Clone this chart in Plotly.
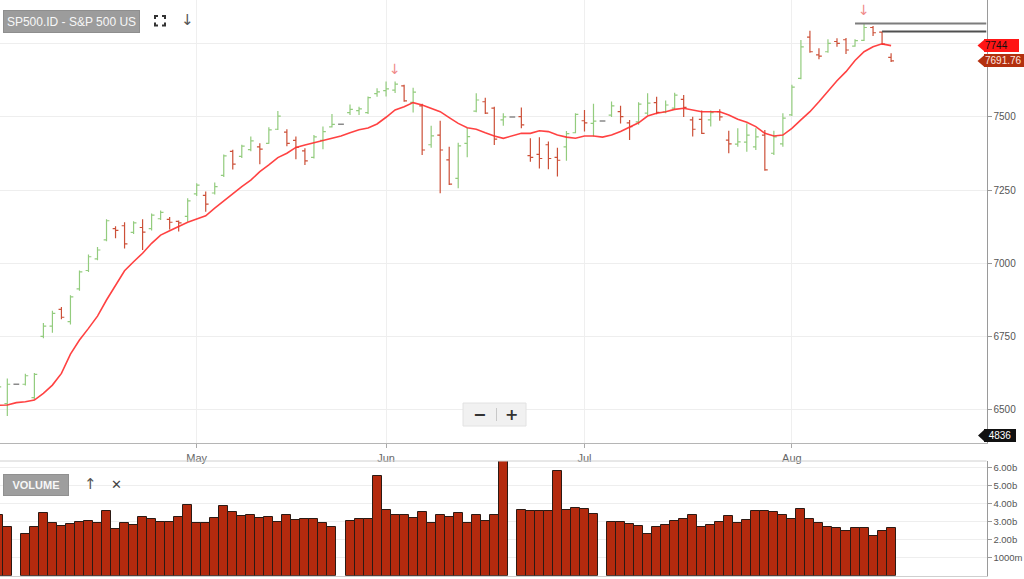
import pandas as pd
import plotly.graph_objects as go

W, H = 1024, 579

# ---------------- data ----------------
dates = [d.strftime("%Y-%m-%d") for d in pd.bdate_range("2026-04-01", "2026-08-18")]
holidays = ["2026-04-03", "2026-05-25", "2026-06-19", "2026-07-03"]

opens = [
    # April
    6560, 6520, 6586, 6586, 6540, 6750, 6785, 6842, 6800, 6912, 6975, 7015, 7080, 7118, 7128, 7105, 7122, 7118, 7152, 7150, 7143, 7160,
    # May
    7237, 7232, 7240, 7300, 7382, 7365, 7388, 7398, 7410, 7458, 7448, 7420, 7384, 7362, 7420, 7466, 7475, 7515, 7522, 7515, 7580,
    # June
    7590, 7592, 7606, 7550, 7538, 7405, 7438, 7353, 7290, 7410, 7520, 7552, 7530, 7490, 7500, 7501, 7368, 7372, 7405, 7362, 7398, 7446,
    # July
    7487, 7478, 7486, 7506, 7518, 7480, 7483, 7513, 7549, 7517, 7530, 7560, 7490, 7492, 7490, 7518, 7421, 7407, 7414, 7398, 7438, 7376, 7408,
    # August
    7507, 7632, 7773, 7712, 7723, 7758, 7764, 7742, 7762, 7806, 7790, 7704,
]
highs = [
    6592, 6606, 6586, 6622, 6624, 6795, 6837, 6850, 6890, 6975, 7030, 7055, 7150, 7126, 7140, 7143, 7150, 7170, 7180, 7158, 7146, 7222,
    7273, 7245, 7276, 7372, 7388, 7405, 7433, 7410, 7465, 7520, 7458, 7433, 7393, 7438, 7467, 7510, 7475, 7543, 7535, 7570, 7598,
    7621, 7621, 7610, 7600, 7545, 7470, 7487, 7398, 7412, 7462, 7581, 7566, 7535, 7513, 7500, 7532, 7427, 7431, 7416, 7395, 7452, 7513,
    7524, 7545, 7486, 7553, 7538, 7490, 7550, 7581, 7569, 7556, 7583, 7575, 7501, 7522, 7522, 7526, 7453, 7461, 7478, 7461, 7455, 7453, 7513,
    7610, 7763, 7795, 7735, 7766, 7769, 7770, 7766, 7820, 7811, 7792, 7718,
]
lows = [
    6540, 6477, 6586, 6582, 6535, 6743, 6762, 6808, 6790, 6906, 6970, 7010, 7075, 7085, 7050, 7100, 7045, 7112, 7148, 7115, 7108, 7142,
    7230, 7176, 7235, 7295, 7320, 7360, 7383, 7338, 7408, 7455, 7400, 7355, 7336, 7358, 7390, 7464, 7475, 7507, 7507, 7510, 7569,
    7570, 7582, 7552, 7515, 7370, 7395, 7239, 7267, 7256, 7362, 7516, 7510, 7404, 7470, 7500, 7461, 7347, 7324, 7321, 7296, 7350, 7444,
    7450, 7433, 7486, 7500, 7478, 7421, 7473, 7507, 7509, 7513, 7526, 7500, 7433, 7442, 7467, 7487, 7376, 7398, 7381, 7387, 7316, 7370, 7398,
    7503, 7629, 7720, 7697, 7720, 7740, 7715, 7740, 7760, 7777, 7746, 7688,
]
closes = [
    6577, 6586, 6586, 6615, 6620, 6785, 6828, 6815, 6885, 6970, 7022, 7045, 7145, 7112, 7066, 7138, 7106, 7164, 7174, 7140, 7138, 7213,
    7267, 7202, 7262, 7367, 7339, 7400, 7418, 7390, 7456, 7503, 7410, 7396, 7350, 7432, 7450, 7475, 7475, 7526, 7528, 7566, 7586,
    7596, 7612, 7555, 7585, 7387, 7435, 7387, 7270, 7401, 7433, 7558, 7513, 7424, 7500, 7500, 7473, 7362, 7358, 7358, 7352, 7443, 7509,
    7480, 7486, 7486, 7538, 7501, 7467, 7544, 7547, 7516, 7541, 7575, 7533, 7458, 7444, 7515, 7500, 7408, 7415, 7438, 7432, 7319, 7432, 7496,
    7602, 7740, 7723, 7708, 7752, 7752, 7729, 7761, 7806, 7788, 7749, 7691.76,
]
moving_avg = [
    6514, 6515, 6523, 6526, 6532, 6555, 6583, 6623, 6689, 6737, 6777, 6819, 6874, 6925, 6974, 7005, 7034, 7068, 7096, 7111, 7125, 7140,
    7151, 7162, 7188, 7213, 7239, 7262, 7284, 7313, 7336, 7361, 7376, 7396, 7404, 7412, 7421, 7429, 7435, 7446, 7456, 7462, 7476,
    7499, 7524, 7535, 7549, 7541, 7530, 7518, 7498, 7478, 7463, 7458, 7446, 7435, 7427, 7435, 7444, 7444, 7453, 7450, 7438, 7431, 7427,
    7435, 7435, 7431, 7438, 7450, 7465, 7480, 7503, 7513, 7518, 7526, 7530, 7524, 7518, 7518, 7518, 7507, 7492, 7482, 7467, 7444, 7435, 7438,
    7461, 7490, 7518, 7552, 7590, 7624, 7655, 7693, 7723, 7740, 7750, 7744,
]
volume_bn = [
    3.36, 2.71, 0, 2.31, 2.71, 3.51, 2.95, 2.75, 2.86, 3.01, 3.06, 2.95, 3.62, 2.62, 2.95, 2.80, 3.27, 3.17, 3.01, 3.01, 3.27, 3.95,
    2.90, 2.95, 3.21, 3.86, 3.56, 3.30, 3.36, 3.21, 3.27, 3.01, 3.36, 3.12, 3.17, 3.17, 2.90, 2.71, 0, 3.06, 3.14, 3.17, 5.55,
    3.67, 3.39, 3.39, 3.21, 3.56, 2.95, 3.39, 3.27, 3.51, 2.95, 3.39, 3.06, 3.36, 6.37, 0, 3.67, 3.58, 3.62, 3.58, 5.81, 3.67, 3.76,
    3.71, 3.41, 0, 3.01, 3.01, 2.86, 2.75, 2.31, 2.71, 2.80, 3.06, 3.15, 3.39, 2.71, 2.80, 3.01, 3.30, 2.95, 3.12, 3.62, 3.62, 3.56, 3.39,
    3.15, 3.71, 3.15, 2.90, 2.71, 2.66, 2.51, 2.66, 2.66, 2.20, 2.51, 2.66,
]

month_tick_dates = ["2026-05-01", "2026-06-01", "2026-07-01", "2026-08-03"]
month_tick_text = ["May", "Jun", "Jul", "Aug"]
price_ticks = [6500, 6750, 7000, 7250, 7500, 7750]
price_tick_text = ["6500", "6750", "7000", "7250", "7500", ""]  # 7750 label sits under the price tag
vol_ticks = [1, 2, 3, 4, 5, 6]
vol_tick_text = ["1000m", "2.00b", "3.00b", "4.00b", "5.00b", "6.00b"]
signal_dates = ["2026-06-02", "2026-08-13"]
level_lines = [("2026-08-12", "2026-08-13"), ("2026-08-17", "2026-08-17")]  # (start date, date whose high is the level)
extra_tag = "4836"

# ---------------- styles ----------------
FONT = "Liberation Sans, Arial, sans-serif"
GREEN = "#93cc7e"
RED = "#cc5038"
GRAY = "#8a8a8a"
MA_COL = "rgba(255,45,45,0.9)"
VOL_FILL = "#b42a0e"
VOL_EDGE = "#2b1a14"

XR = [0.188, 109.58]
XDOM = [0, 986.5 / W]
PR = [6384, 7900]


def px(x):
    return x / W


def py(y):
    return 1 - y / H


is_hol = [d in holidays for d in dates]


def pick(vals, flag):
    return [v if f == flag else None for v, f in zip(vals, is_hol)]


fig = go.Figure()

fig.add_trace(go.Ohlc(
    x=dates, open=pick(opens, False), high=pick(highs, False), low=pick(lows, False), close=pick(closes, False),
    increasing=dict(line=dict(color=GREEN, width=1.2)),
    decreasing=dict(line=dict(color=RED, width=1.2)),
    tickwidth=0.32, xaxis="x", yaxis="y", hoverinfo="skip", showlegend=False))
fig.add_trace(go.Ohlc(
    x=dates, open=pick(opens, True), high=pick(highs, True), low=pick(lows, True), close=pick(closes, True),
    increasing=dict(line=dict(color=GRAY, width=1.5)),
    decreasing=dict(line=dict(color=GRAY, width=1.5)),
    tickwidth=0.32, xaxis="x", yaxis="y", hoverinfo="skip", showlegend=False))
fig.add_trace(go.Scatter(
    x=dates, y=moving_avg, mode="lines", line=dict(color=MA_COL, width=1.6),
    xaxis="x", yaxis="y", hoverinfo="skip", showlegend=False))
fig.add_trace(go.Bar(
    x=dates, y=[v if v > 0 else None for v in volume_bn],
    marker=dict(color=VOL_FILL, line=dict(color=VOL_EDGE, width=1)),
    xaxis="x2", yaxis="y2", hoverinfo="skip", showlegend=False))

shapes = []
annotations = []


def label(x, y, text, size, color, family="DejaVu Sans", **kw):
    d = dict(x=px(x), y=py(y), xref="paper", yref="paper", text=text, showarrow=False,
             xanchor="center", yanchor="middle", font=dict(size=size, color=color, family=family))
    d.update(kw)
    annotations.append(d)


# level lines
for start, ref in level_lines:
    lvl = highs[dates.index(ref)]
    shapes.append(dict(type="line", xref="x", yref="y", x0=dates.index(start), x1=XR[1], y0=lvl, y1=lvl,
                       line=dict(color="#7d7d7d" if start == level_lines[0][0] else "#505050", width=2)))

# signal arrows
for d in signal_dates:
    annotations.append(dict(x=d, y=highs[dates.index(d)], xref="x", yref="y", text="↓", showarrow=False,
                            xanchor="center", yanchor="bottom", yshift=3,
                            font=dict(size=14, color="#f08a8a", family="DejaVu Sans")))


# price tags
def tag(value, text, bg, fg, width):
    h_units = 6.0 * (PR[1] - PR[0]) / 443.3
    annotations.append(dict(x=px(984), y=value, xref="paper", yref="y", text=text, showarrow=False,
                            xanchor="left", yanchor="middle", bgcolor=bg, bordercolor=bg, borderpad=0,
                            width=width, height=11, align="left",
                            font=dict(size=10, color=fg, family=FONT)))
    shapes.append(dict(type="path", xref="paper", yref="y",
                       path=f"M {px(977.5)},{value} L {px(984.5)},{value + h_units} L {px(984.5)},{value - h_units} Z",
                       fillcolor=bg, line=dict(width=0)))


tag(moving_avg[-1], f"{moving_avg[-1]:g}", "#ff1515", "#111111", 33)
tag(closes[-1], f"{closes[-1]:.2f}", "#b3300f", "#ffe6e0", 44)

# black tag near bottom of price axis
annotations.append(dict(x=px(984), y=py(435.5), xref="paper", yref="paper", text=extra_tag, showarrow=False,
                        xanchor="left", yanchor="middle", bgcolor="#111111", bordercolor="#111111", borderpad=0,
                        width=30, height=11, font=dict(size=10, color="white", family=FONT)))
shapes.append(dict(type="path", xref="paper", yref="paper",
                   path=f"M {px(978)},{py(435.5)} L {px(984.5)},{py(429.5)} L {px(984.5)},{py(441.5)} Z",
                   fillcolor="#111111", line=dict(width=0)))

# title box
annotations.append(dict(x=px(3), y=py(10), xref="paper", yref="paper", xanchor="left", yanchor="top",
                        text="SP500.ID - S&P 500 US", showarrow=False, bgcolor="#9c9c9c", bordercolor="#8e8e8e",
                        borderwidth=1, width=133, height=19, font=dict(size=12, color="#f7f7f7", family=FONT)))
# fullscreen icon (four corners)
x0, x1, y0, y1, c = 155, 165, 16, 25.5, 3
corner_path = (f"M {px(x0)},{py(y0 + c)} L {px(x0)},{py(y0)} L {px(x0 + c)},{py(y0)} "
               f"M {px(x1 - c)},{py(y0)} L {px(x1)},{py(y0)} L {px(x1)},{py(y0 + c)} "
               f"M {px(x1)},{py(y1 - c)} L {px(x1)},{py(y1)} L {px(x1 - c)},{py(y1)} "
               f"M {px(x0 + c)},{py(y1)} L {px(x0)},{py(y1)} L {px(x0)},{py(y1 - c)}")
shapes.append(dict(type="path", xref="paper", yref="paper", path=corner_path, line=dict(color="#333333", width=2)))
label(187, 20.5, "↓", 15, "#555555")

# volume header
annotations.append(dict(x=px(3), y=py(474), xref="paper", yref="paper", xanchor="left", yanchor="top",
                        text="<b>VOLUME</b>", showarrow=False, bgcolor="#9e9e9e", bordercolor="#909090",
                        borderwidth=1, width=62, height=18, font=dict(size=11, color="#f7f7f7", family=FONT)))
label(90.5, 484, "↑", 15, "#555555")
label(116, 484, "✕", 13, "#444444")

# zoom control
shapes.append(dict(type="rect", xref="paper", yref="paper", x0=px(463), x1=px(526), y0=py(426), y1=py(403),
                   fillcolor="#f1f1f1", line=dict(color="#e2e2e2", width=1), layer="above"))
shapes.append(dict(type="line", xref="paper", yref="paper", x0=px(496.5), x1=px(496.5), y0=py(421), y1=py(408),
                   line=dict(color="#c8c8c8", width=1), layer="above"))
label(479, 414.5, "<b>−</b>", 16, "#333333")
label(511, 414.5, "<b>+</b>", 16, "#333333")

# panel separator line
shapes.append(dict(type="line", xref="paper", yref="paper", x0=0, x1=XDOM[1], y0=py(461), y1=py(461),
                   line=dict(color="#d0d0d0", width=1)))

axis_font = dict(size=10, color="#555555", family=FONT)

fig.update_layout(
    width=W, height=H, margin=dict(l=0, r=0, t=0, b=0, autoexpand=False),
    paper_bgcolor="white", plot_bgcolor="white",
    font=dict(family=FONT),
    bargap=0, showlegend=False,
    xaxis=dict(domain=XDOM, type="category", range=XR, anchor="y",
               categoryorder="array", categoryarray=dates,
               tickvals=month_tick_dates, ticktext=month_tick_text,
               ticks="outside", ticklen=4, tickcolor="#aaaaaa",
               showline=True, linecolor="#b5b5b5", linewidth=1,
               showgrid=True, gridcolor="#efefef", gridwidth=1,
               tickfont=dict(size=11, color="#666666", family=FONT),
               rangeslider=dict(visible=False), zeroline=False, fixedrange=True),
    yaxis=dict(domain=[py(443.3), 1], range=PR, anchor="x", side="right",
               tickvals=price_ticks, ticktext=price_tick_text, ticks="outside", ticklen=4, tickcolor="#999999",
               showline=True, linecolor="#9a9a9a", linewidth=1,
               showgrid=True, gridcolor="#eeeeee", gridwidth=1, zeroline=False,
               tickfont=axis_font, fixedrange=True),
    xaxis2=dict(domain=XDOM, type="category", range=XR, anchor="y2", matches="x",
                categoryorder="array", categoryarray=dates,
                showticklabels=False, ticks="", showgrid=False,
                showline=True, linecolor="#cfcfcf", linewidth=1, zeroline=False, fixedrange=True),
    yaxis2=dict(domain=[py(575.7), py(461)], range=[0, 6.37], anchor="x2", side="right",
                tickvals=vol_ticks, ticktext=vol_tick_text, ticks="outside", ticklen=4, tickcolor="#999999",
                showline=True, linecolor="#9a9a9a", linewidth=1,
                showgrid=True, gridcolor="#eeeeee", gridwidth=1, zeroline=False,
                tickfont=dict(size=9.5, color="#555555", family=FONT), fixedrange=True),
    shapes=shapes, annotations=annotations,
)

fig.write_html("out.html", config={"displayModeBar": False},
               post_script="document.body.style.margin='0';document.body.style.padding='0';"
                           "document.body.style.overflow='hidden';")
